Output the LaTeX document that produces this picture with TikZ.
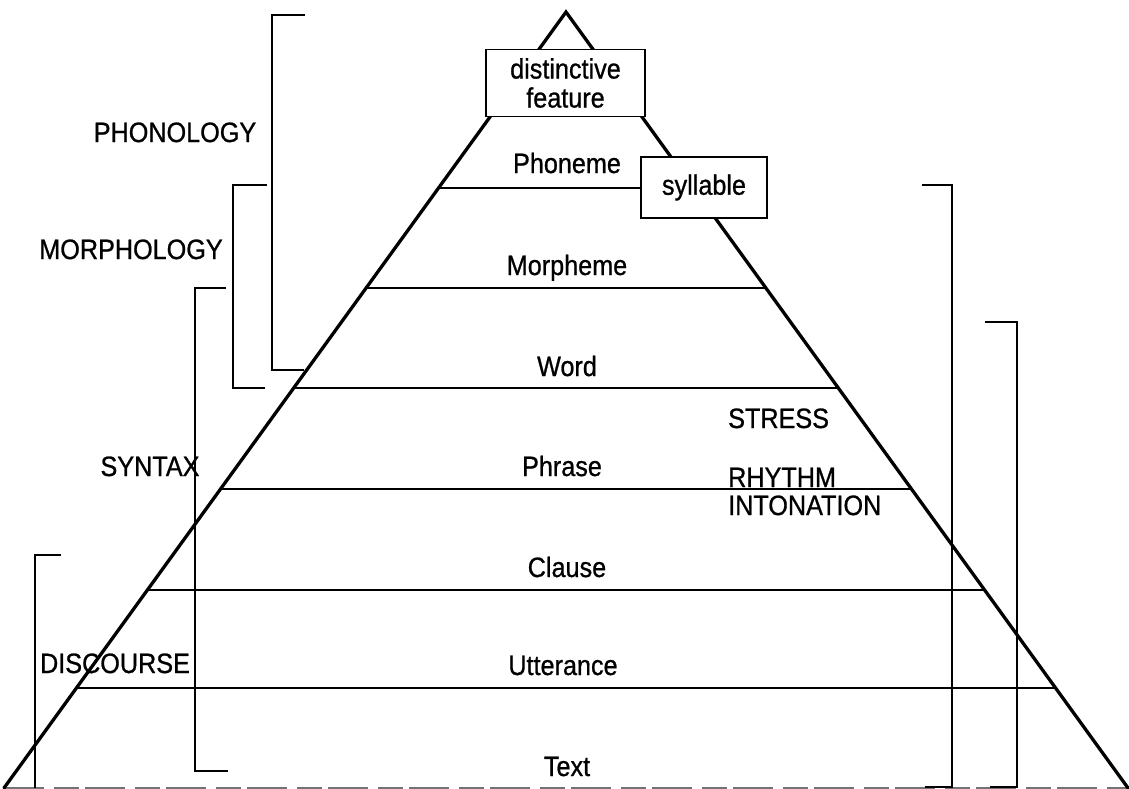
\documentclass[tikz,border=0pt]{standalone}
\usepackage{fontspec}
\setmainfont{Liberation Sans}
\font\labfont="Liberation Sans:extend=0.9;embolden=0.8" at 28pt
\newcommand\boxfont{\labfont\baselineskip=29pt}
\tikzset{
  edge/.style={line width=3.3pt, line cap=round, line join=miter},
  level/.style={line width=2.1pt},
  brk/.style={line width=1.6pt, line join=miter},
  lbl/.style={inner sep=0pt, anchor=base, font=\labfont},
  side/.style={lbl, anchor=base west},
  boxed/.style={draw, line width=1.6pt, fill=white, align=center, inner sep=0pt, font=\boxfont},
  baseln/.style={line width=1.2pt, black!55, dash pattern=on 40pt off 10pt on 25pt off 6pt}
}
\begin{document}
\begin{tikzpicture}[x=1pt,y=-1pt]
\useasboundingbox (0,0) rectangle (1129,788);
% pyramid corners
\coordinate (apex) at (566,12);
\coordinate (bl) at (4,788);
\coordinate (br) at (1128,788);
\draw[baseln] (bl) -- (br);
\draw[edge] (bl) -- (apex) -- (br);
% level line end points
\coordinate (l1) at (438.5,188);
\coordinate (l2) at (366.1,288); \coordinate (r2) at (765.9,288);
\coordinate (l3) at (293.7,388); \coordinate (r3) at (838.3,388);
\coordinate (l4) at (220.6,489); \coordinate (r4) at (911.4,489);
\coordinate (l5) at (147.4,590); \coordinate (r5) at (984.6,590);
\coordinate (l6) at (76.4,688);  \coordinate (r6) at (1055.6,688);
% boxes
\node[boxed, minimum width=159pt, minimum height=67pt] (df) at (565.5,83) {distinctive\\feature};
\node[boxed, minimum width=126pt, minimum height=61pt] (syl) at (704,187.5) {syllable};
% level lines
\draw[level] (l1) -- (l1 -| syl.west);
\draw[level] (l2) -- (r2);
\draw[level] (l3) -- (r3);
\draw[level] (l4) -- (r4);
\draw[level] (l5) -- (r5);
\draw[level] (l6) -- (r6);
% level labels
\node[lbl] (phoneme) at (567,173) {Phoneme};
\node[lbl] (morpheme) at (567,275) {Morpheme};
\node[lbl] (word) at (567,376) {Word};
\node[lbl] (phrase) at (562,476) {Phrase};
\node[lbl] (clause) at (567,577) {Clause};
\node[lbl] (utter) at (563,675) {Utterance};
\node[lbl] (text) at (567,776) {Text};
% prosody labels
\node[side] (stress) at (728,428) {STRESS};
\node[side] (rhythm) at (728,487) {RHYTHM};
\node[side] (inton) at (728,515) {INTONATION};
% domain labels
\node[lbl] (phon) at (175,142) {PHONOLOGY};
\node[lbl] (morph) at (131,259) {MORPHOLOGY};
\node[lbl] (syn) at (150,476) {SYNTAX};
\node[lbl] (disc) at (115,673) {DISCOURSE};
% left brackets
\coordinate (pA) at (305,15);  \coordinate (pB) at (272,15);  \coordinate (pC) at (272,370); \coordinate (pD) at (304,370);
\draw[brk] (pA) -- (pB) -- (pC) -- (pD);
\coordinate (mA) at (267,185); \coordinate (mB) at (233,185); \coordinate (mC) at (233,388); \coordinate (mD) at (265,388);
\draw[brk] (mA) -- (mB) -- (mC) -- (mD);
\coordinate (sA) at (226,288); \coordinate (sB) at (195,288); \coordinate (sC) at (195,771); \coordinate (sD) at (228,771);
\draw[brk] (sA) -- (sB) -- (sC) -- (sD);
\coordinate (dA) at (61,555);  \coordinate (dB) at (35,555);  \coordinate (dC) at (35,788);
\draw[brk] (dA) -- (dB) -- (dC);
% right brackets
\coordinate (qA) at (922,185); \coordinate (qB) at (952,185); \coordinate (qC) at (952,787); \coordinate (qD) at (925,787);
\draw[brk] (qA) -- (qB) -- (qC) -- (qD);
\coordinate (uA) at (985,322); \coordinate (uB) at (1017,322); \coordinate (uC) at (1017,787); \coordinate (uD) at (990,787);
\draw[brk] (uA) -- (uB) -- (uC) -- (uD);
\end{tikzpicture}
\end{document}
